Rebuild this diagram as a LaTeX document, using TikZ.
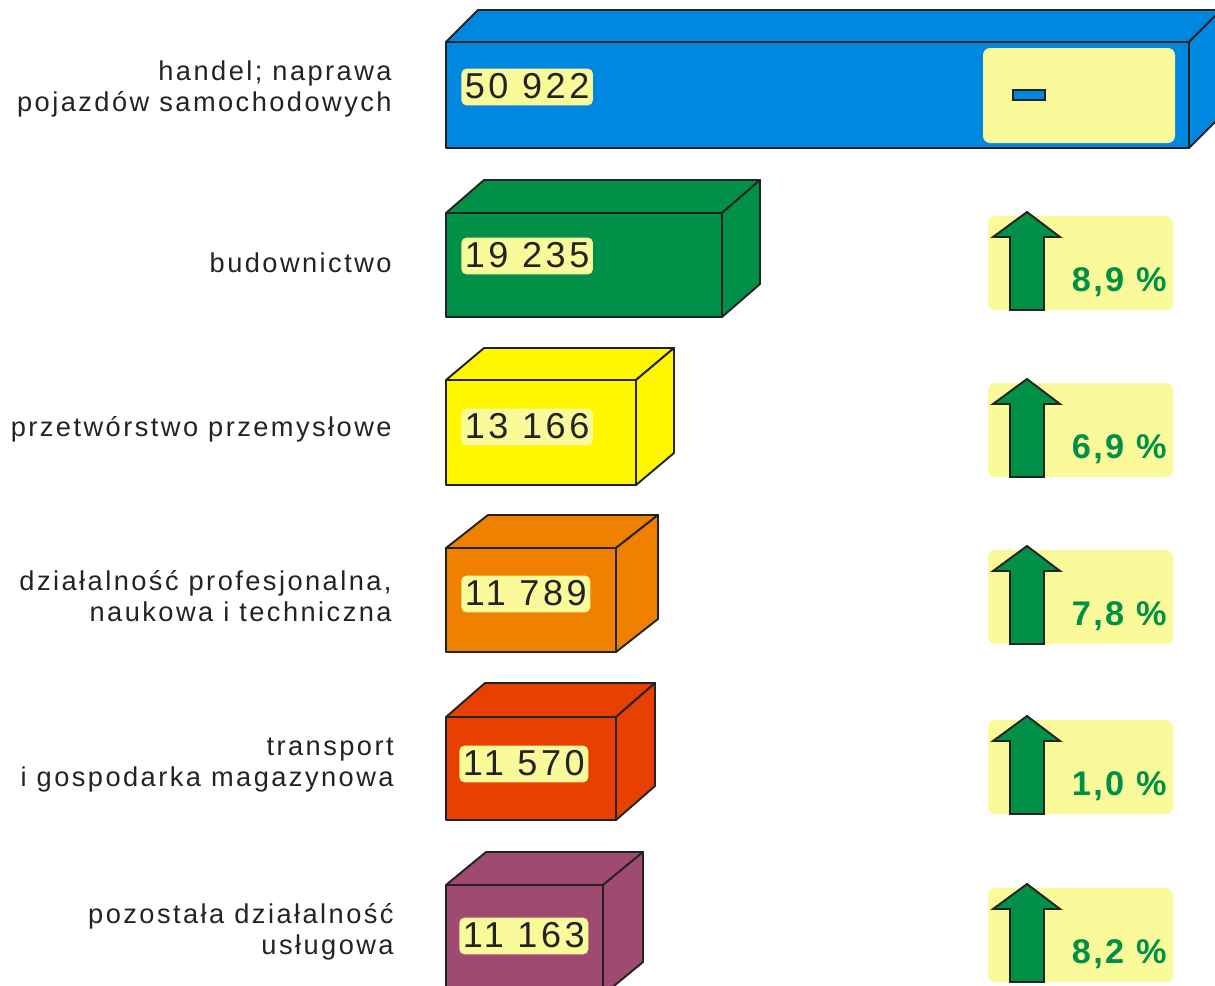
\documentclass[tikz,border=0pt]{standalone}
\usepackage{fontspec}
\setmainfont{Liberation Sans}
\usetikzlibrary{positioning}
\definecolor{edgegray}{RGB}{35,35,35}
\definecolor{paleyellow}{RGB}{250,250,155}
\definecolor{pctgreen}{RGB}{0,144,72}
\definecolor{cblue}{RGB}{0,136,224}
\definecolor{cgreen}{RGB}{0,144,72}
\definecolor{cyellow}{RGB}{255,247,0}
\definecolor{corange}{RGB}{240,128,0}
\definecolor{cred}{RGB}{232,64,0}
\definecolor{cpurple}{RGB}{160,74,114}
% #1 x, #2 top, #3 width, #4 height, #5 depth x, #6 depth y, #7 colour
\newcommand{\crate}[7]{
  \filldraw[crate edge,fill=#7] (#1,#2) rectangle ++(#3,#4);
  \filldraw[crate edge,fill=#7] (#1,#2) -- ++(#5,-#6) -- ++(#3,0) -- ++(-#5,#6) -- cycle;
  \filldraw[crate edge,fill=#7] (#1+#3,#2) -- ++(#5,-#6) -- ++(0,#4) -- ++(-#5,#6) -- cycle;
}

\begin{document}
\begin{tikzpicture}[x=0.02cm,y=-0.02cm,
  crate edge/.style={draw=edgegray,line width=1.1pt,line join=round},
  branch/.style={anchor=east,align=right,inner sep=0pt,text=edgegray,
    font=\fontsize{15.5}{17.5}\selectfont\addfontfeatures{LetterSpace=9}},
  value/.style={anchor=west,fill=paleyellow,rounded corners=3pt,inner xsep=2pt,inner ysep=2pt,
    text=edgegray,font=\fontsize{20.5}{21}\selectfont\addfontfeatures{LetterSpace=10},
    text height=15pt,text depth=2pt},
  panel/.style={fill=paleyellow,rounded corners=4pt},
  growth/.style={fill=cgreen,draw=edgegray,line width=1.1pt,line join=miter},
  pct/.style={anchor=east,inner sep=0pt,text=pctgreen,
    font=\bfseries\fontsize{19.5}{20}\selectfont\addfontfeatures{LetterSpace=7}}]
\useasboundingbox (0,0) rectangle (1215,985);
\clip (0,0) rectangle (1215,985);

% boxes
\crate{446}{42}{743}{106}{32}{32}{cblue}
\crate{446}{213}{276}{104}{38}{33}{cgreen}
\crate{446}{380}{190}{105}{38}{32}{cyellow}
\crate{446}{548}{170}{104}{42}{33}{corange}
\crate{446}{717}{170}{103}{39}{34}{cred}
\crate{446}{885}{157}{110}{40}{33}{cpurple}

% values
\node[value] (v1) at (461,87) {50 922};
\node[value] (v2) at (461,256) {19 235};
\node[value] (v3) at (461,427) {13 166};
\node[value] (v4) at (461,594) {11 789};
\node[value] (v5) at (459,764) {11 570};
\node[value] (v6) at (459,936) {11 163};

% branch names
\node[branch] (b1) at (392,89) {handel; naprawa\\pojazdów samochodowych};
\node[branch] (b2) at (392,263) {budownictwo};
\node[branch] (b3) at (392,429) {przetwórstwo przemysłowe};
\node[branch] (b4) at (392,596) {działalność profesjonalna,\\naukowa i techniczna};
\node[branch] (b5) at (394,765) {transport\\i gospodarka magazynowa};
\node[branch] (b6) at (394,932) {pozostała działalność\\usługowa};

% change panels
\fill[panel] (983,48) rectangle (1175,143);
\filldraw[fill=cblue,draw=edgegray,line width=1pt] (1013,90) rectangle (1045,100);
\foreach \t/\p [count=\i from 2] in {216/{8,9 \%},383/{6,9 \%},550/{7,8 \%},720/{1,0 \%},888/{8,2 \%}} {
  \fill[panel] (988,\t) rectangle (1173,\t+94);
  \filldraw[growth] (1027,\t-4) -- (1060,\t+21) -- (1044,\t+21) -- (1044,\t+94)
    -- (1010,\t+94) -- (1010,\t+21) -- (993,\t+21) -- cycle;
  \node[pct] (p\i) at (1167,\t+66) {\p};
}
\end{tikzpicture}
\end{document}
